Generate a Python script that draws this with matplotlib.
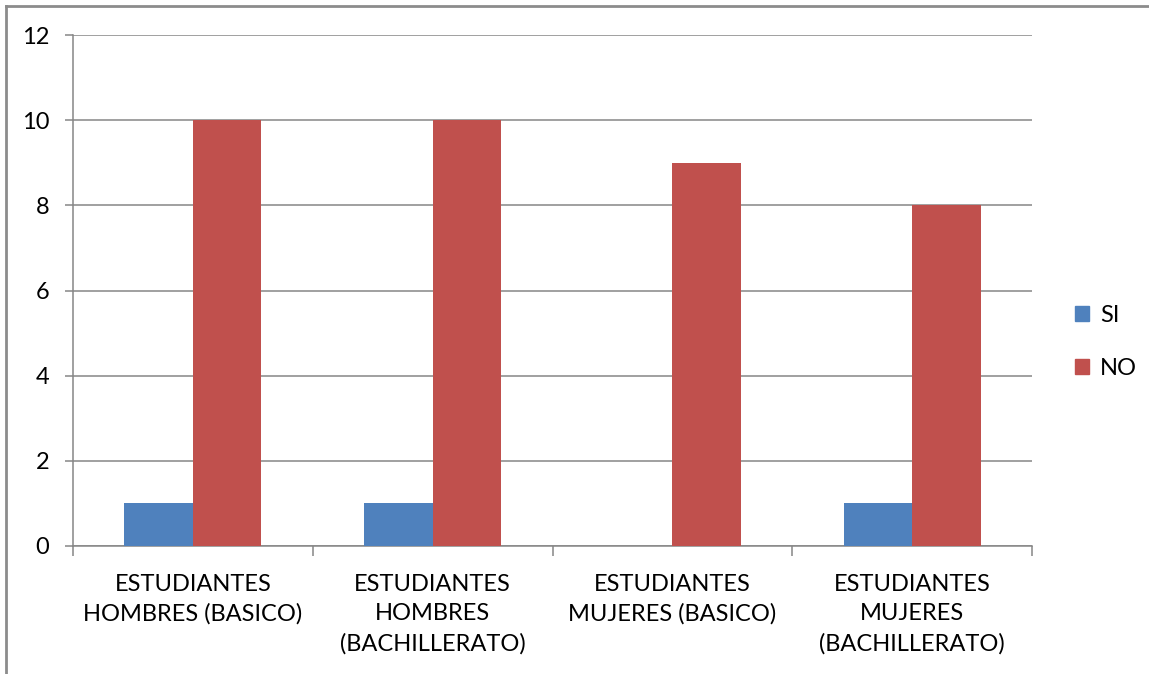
import numpy as np
import matplotlib.pyplot as plt
from matplotlib.patches import Patch
from matplotlib.lines import Line2D

# Datos
categorias = ['ESTUDIANTES\nHOMBRES (BASICO)', 'ESTUDIANTES\nHOMBRES\n(BACHILLERATO)',
              'ESTUDIANTES\nMUJERES (BASICO)', 'ESTUDIANTES\nMUJERES\n(BACHILLERATO)']
si = [1, 1, 0, 1]
no = [10, 10, 9, 8]
y_ticks = [0, 2, 4, 6, 8, 10, 12]

azul = '#4F81BD'
rojo = '#C0504D'
gris = '#868686'

plt.rcParams['font.family'] = ['Lato', 'DejaVu Sans']

fig = plt.figure(figsize=(11.49, 6.74), dpi=100)
ax = fig.add_axes([73/1149, 1 - 546/674, (1032 - 73)/1149, (546 - 35)/674])

x = np.arange(len(categorias))
w = 0.286
ax.bar(x - w/2, si, width=w, color=azul, label='SI', zorder=3)
ax.bar(x + w/2, no, width=w, color=rojo, label='NO', zorder=3)

ax.set_xlim(-0.5, 3.5)
ax.set_ylim(0, 12)
ax.set_yticks(y_ticks)
ax.set_yticklabels([str(v) for v in y_ticks], fontsize=17)
ax.yaxis.grid(True, color=gris, linewidth=1.1, zorder=0)
ax.tick_params(axis='y', length=6, color=gris, width=1.1, pad=11)

# Etiquetas de categorías
ax.set_xticks(x)
ax.set_xticklabels(categorias, fontsize=17, linespacing=1.5)
ax.tick_params(axis='x', length=0, pad=20)
ax.set_xticks(np.arange(-0.5, 4, 1), minor=True)
ax.tick_params(axis='x', which='minor', length=7, color=gris, width=1.1)

for s in ['top', 'right']:
    ax.spines[s].set_visible(False)
for s in ['left', 'bottom']:
    ax.spines[s].set_color(gris)
    ax.spines[s].set_linewidth(1.1)

# Leyenda
handles = [Patch(color=azul, label='SI'), Patch(color=rojo, label='NO')]
fig.legend(handles=handles, loc='center left', bbox_to_anchor=(1075/1149, 1 - 342/674),
           frameon=False, fontsize=17, handlelength=0.6, handleheight=0.6,
           handletextpad=0.45, labelspacing=1.35, borderaxespad=0, borderpad=0)

# Marco del gráfico
fig.add_artist(Line2D([5.5/1149, 1], [1 - 5.5/674, 1 - 5.5/674], color='#8C8C8C', linewidth=2))
fig.add_artist(Line2D([5.5/1149, 5.5/1149], [0, 1 - 5.5/674], color='#8C8C8C', linewidth=2))

fig.savefig('out.png', dpi=100)
